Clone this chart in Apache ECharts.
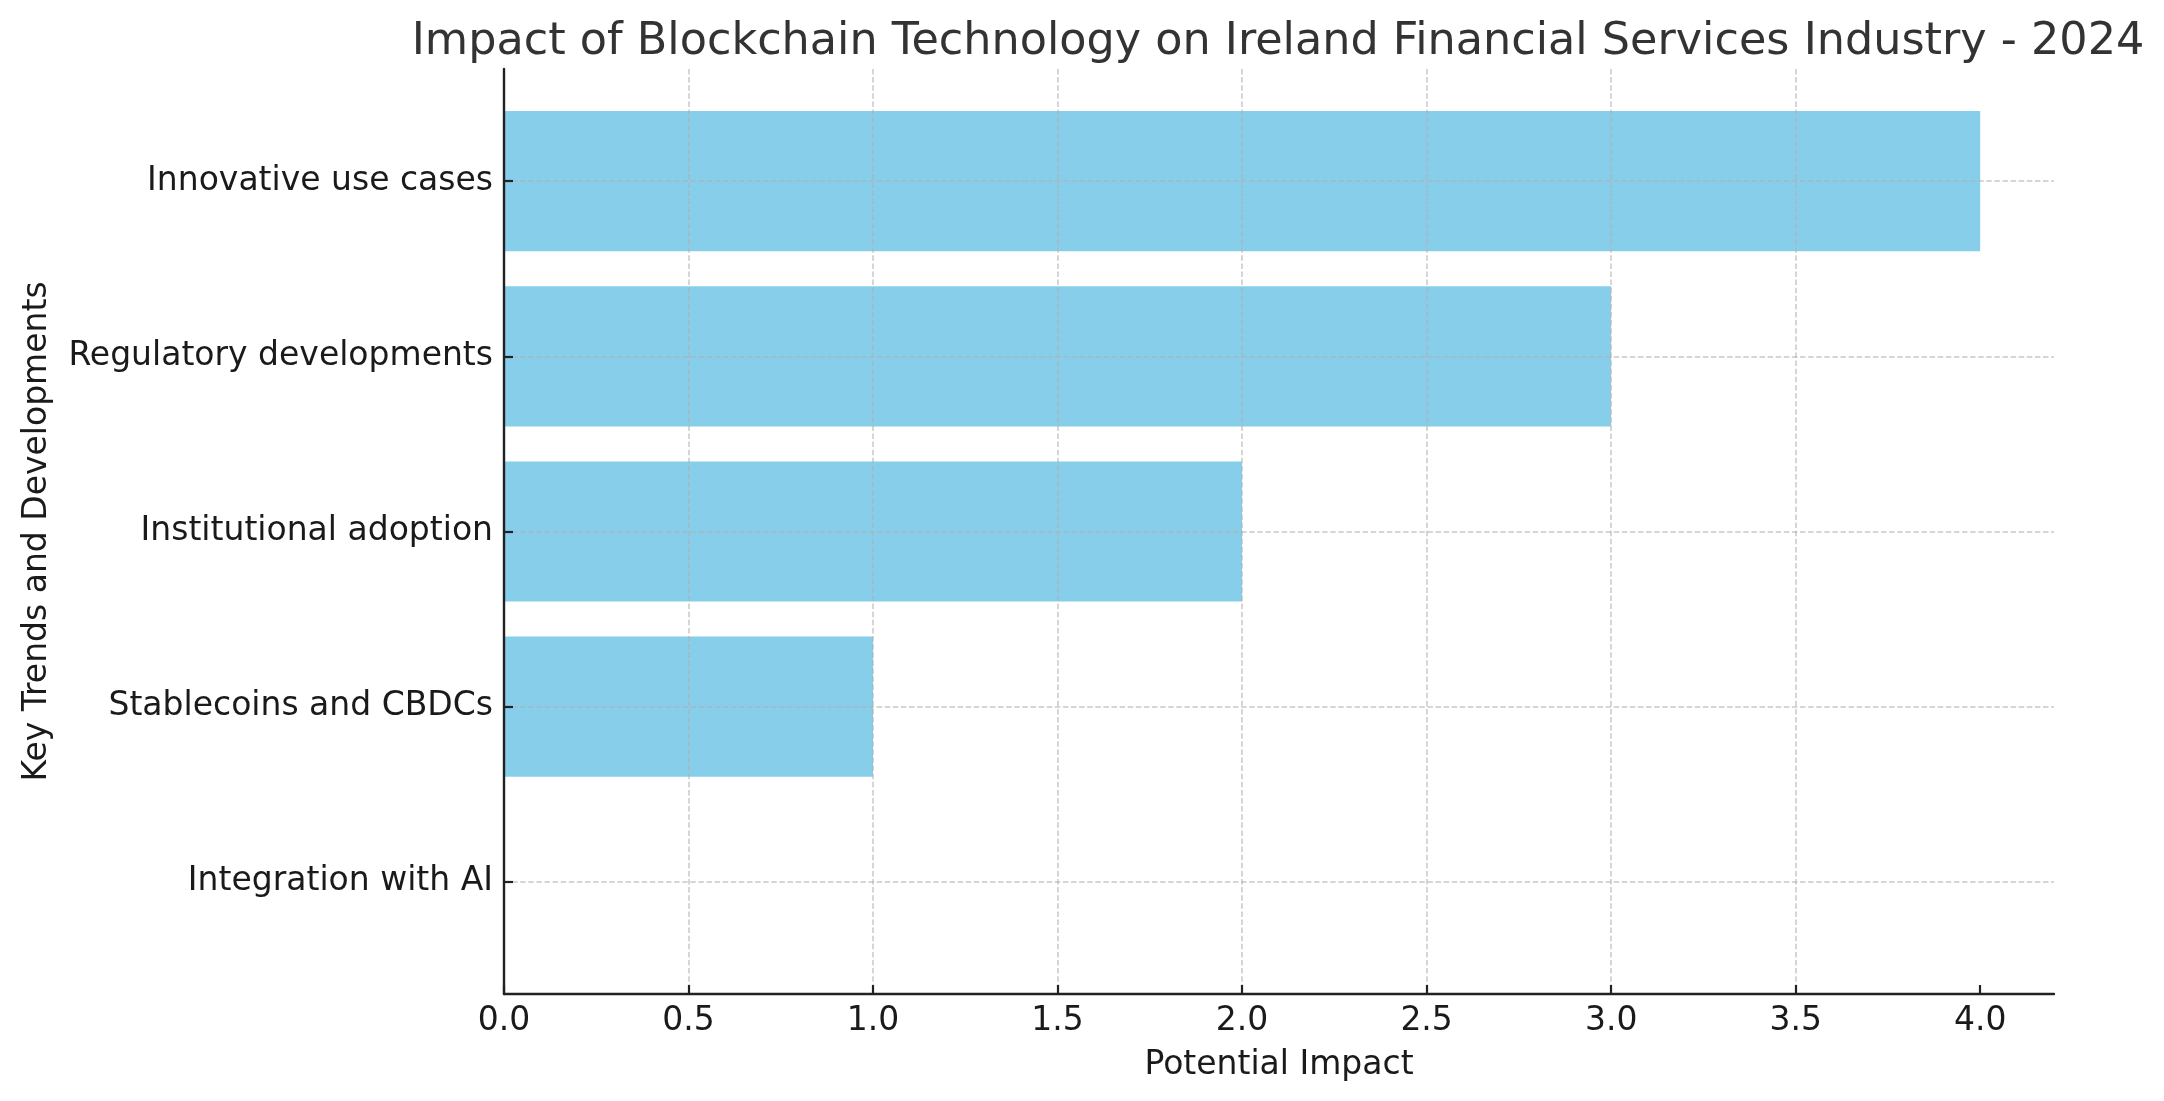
<!DOCTYPE html>
<html>
<head>
<meta charset="utf-8">
<script src="https://cdn.jsdelivr.net/npm/echarts@6/dist/echarts.min.js"></script>
<style>
html,body{margin:0;padding:0;background:#fff;}
#chart{width:2164px;height:1101px;}
</style>
</head>
<body>
<div id="chart"></div>
<script>
const titleText = 'Impact of Blockchain Technology on Ireland Financial Services Industry - 2024';
const xAxisName = 'Potential Impact';
const yAxisName = 'Key Trends and Developments';
// bottom to top
const categories = ['Integration with AI', 'Stablecoins and CBDCs', 'Institutional adoption', 'Regulatory developments', 'Innovative use cases'];
const impactValues = [0, 1, 2, 3, 4];
const xTickValues = [0, 0.5, 1, 1.5, 2, 2.5, 3, 3.5, 4];
const xMin = 0, xMax = 4.2, xInterval = 0.5;

const FONT = 'DejaVu Sans';
const L = 504, R = 2164 - 2054, T = 69, B = 1101 - 994;
const unit = (994 - 69) / 5.28;
const T1 = T + 0.64 * unit, B1 = B + 0.64 * unit;
const axisDark = '#222222';
const gridStyle = { color: 'rgba(176,176,176,0.7)', width: 1.5, type: [5.5, 2.6] };

const chart = echarts.init(document.getElementById('chart'), null, { renderer: 'canvas' });
chart.setOption({
  backgroundColor: '#ffffff',
  animation: false,
  textStyle: { fontFamily: FONT },
  title: {
    text: titleText,
    left: 1273,
    textAlign: 'center',
    top: 15,
    textStyle: { fontFamily: FONT, fontSize: 44.5, fontWeight: 'normal', color: '#333333' }
  },
  grid: [
    { left: L, right: R, top: T, bottom: B },
    { left: L, right: R, top: T1, bottom: B1 }
  ],
  xAxis: [
    {
      gridIndex: 0, type: 'value', min: xMin, max: xMax, interval: xInterval, z: 5,
      name: xAxisName, nameLocation: 'middle', nameGap: 55,
      nameTextStyle: { fontFamily: FONT, fontSize: 33, color: '#1a1a1a' },
      axisLine: { show: true, lineStyle: { color: axisDark, width: 2.4 } },
      axisTick: { show: true, inside: true, length: 9, customValues: xTickValues, lineStyle: { color: axisDark, width: 2.2 } },
      axisLabel: { show: true, margin: 11, fontFamily: FONT, fontSize: 33, color: '#1a1a1a',
        customValues: xTickValues, formatter: v => v.toFixed(1) },
      splitLine: { show: true, showMaxLine: false, lineStyle: gridStyle }
    },
    {
      gridIndex: 1, type: 'value', min: xMin, max: xMax, show: false
    }
  ],
  yAxis: [
    {
      gridIndex: 0, type: 'value', min: 0, max: 1, z: 5,
      name: yAxisName, nameLocation: 'middle', nameGap: 450, nameRotate: 90,
      nameTextStyle: { fontFamily: FONT, fontSize: 33, color: '#1a1a1a' },
      axisLine: { show: true, lineStyle: { color: axisDark, width: 2.4 } },
      axisTick: { show: false }, axisLabel: { show: false }, splitLine: { show: false }
    },
    {
      gridIndex: 1, type: 'category', data: categories, boundaryGap: false, z: 5,
      axisLine: { show: false },
      axisTick: { show: true, inside: true, length: 9, lineStyle: { color: axisDark, width: 2.2 } },
      axisLabel: { show: true, margin: 11, padding: [5, 0, 0, 0], fontFamily: FONT, fontSize: 33, color: '#1a1a1a' },
      splitLine: { show: true, lineStyle: gridStyle }
    }
  ],
  series: [
    {
      type: 'bar', xAxisIndex: 1, yAxisIndex: 1, data: impactValues,
      barWidth: '80%', clip: false, z: 1,
      itemStyle: { color: '#87CEEB' }
    }
  ]
});
</script>
</body>
</html>
